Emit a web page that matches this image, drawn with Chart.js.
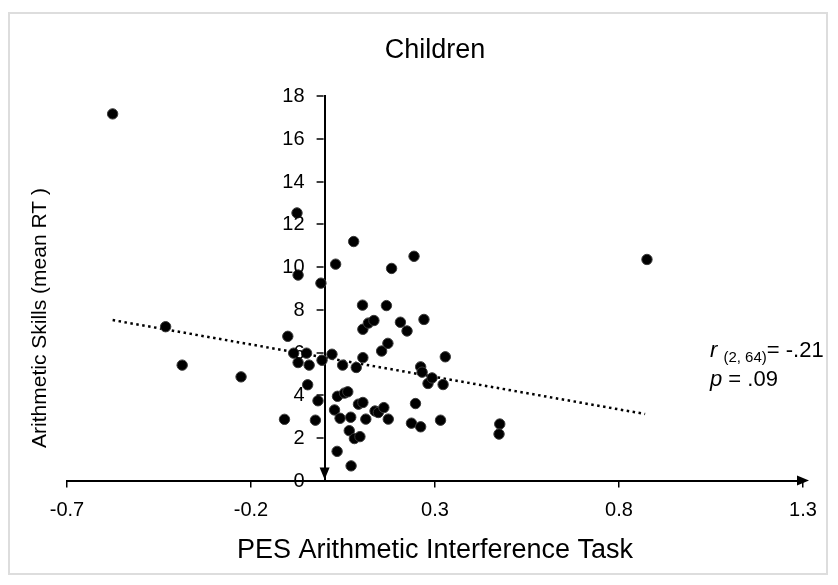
<!DOCTYPE html>
<html>
<head>
<meta charset="utf-8">
<script src="https://cdn.jsdelivr.net/npm/chart.js@4.4.1/dist/chart.umd.min.js"></script>
<style>
  html, body { margin: 0; padding: 0; background: #ffffff; }
  #wrap { position: relative; width: 838px; height: 585px; }
  #frame { position: absolute; left: 8px; top: 12px; width: 820px; height: 563px; border: 2px solid #dddddd; box-sizing: border-box; pointer-events: none; }
  canvas { position: absolute; left: 0; top: 0; }
</style>
</head>
<body>
<div id="wrap">
  <canvas id="c" width="838" height="585"></canvas>
  <div id="frame"></div>
</div>
<script>
// ---- Data ----
const chartTitle = "Children";
const xAxisTitle = "PES Arithmetic Interference Task";
const yAxisTitle = "Arithmetic Skills (mean RT )";

const pesValues = [
  -0.576, -0.432, -0.387, -0.227, -0.075, -0.072, -0.010, 0.030, 0.079, 0.182, 0.243, 0.876,
  -0.100, -0.084, -0.072, -0.049, -0.042, -0.007, 0.020, 0.049, 0.086, 0.104,
  -0.046, -0.018, -0.109, -0.025, 0.035, 0.054, 0.063, 0.027, 0.042, 0.071,
  0.092, 0.104, 0.112, 0.137, 0.146, 0.161, 0.173, 0.067, 0.081, 0.096,
  0.034, 0.072, 0.247, 0.236, 0.261, 0.315, 0.476, 0.474,
  0.103, 0.168, 0.104, 0.119, 0.134, 0.206, 0.224, 0.270, 0.155, 0.172,
  0.261, 0.265, 0.281, 0.292, 0.322, 0.328
];
const arithmeticRT = [
  17.18, 7.21, 5.41, 4.86, 12.54, 9.63, 9.25, 10.14, 11.20, 9.94, 10.51, 10.36,
  6.76, 5.97, 5.53, 5.97, 5.41, 5.64, 5.92, 5.41, 5.30, 5.76,
  4.49, 3.74, 2.87, 2.83, 3.95, 4.10, 4.16, 3.31, 2.92, 2.97,
  3.58, 3.66, 2.88, 3.26, 3.19, 3.42, 2.88, 2.34, 1.97, 2.06,
  1.37, 0.69, 3.61, 2.69, 2.52, 2.83, 2.65, 2.18,
  8.22, 8.20, 7.09, 7.38, 7.50, 7.42, 7.01, 7.55, 6.07, 6.43,
  5.33, 5.08, 4.55, 4.81, 4.50, 5.80
];
// trend line end points
const trendX = [-0.576, 0.871];
const trendY = [7.52, 3.12];

const xTicks = [-0.7, -0.2, 0.3, 0.8, 1.3];
const yTicks = [0, 2, 4, 6, 8, 10, 12, 14, 16, 18];

const statR = "= -.21";
const statRSub = "(2, 64)";
const statP = " = .09";

// ---- Build chart ----
const FONT = "'Liberation Sans', Arial, sans-serif";
const points = pesValues.map((x, i) => ({ x: x, y: arithmeticRT[i] }));
const trend = trendX.map((x, i) => ({ x: x, y: trendY[i] }));

const decorPlugin = {
  id: 'decor',
  afterDraw(chart) {
    const ctx = chart.ctx;
    const xs = chart.scales.x, ys = chart.scales.y;
    const x0 = xs.getPixelForValue(0);
    const yb = ys.getPixelForValue(0);
    const xr = xs.getPixelForValue(1.3);
    ctx.save();
    ctx.fillStyle = '#000';
    ctx.strokeStyle = '#000';

    // y axis tick marks and labels (axis sits at x = 0)
    ctx.lineWidth = 1.5;
    ctx.font = "20px " + FONT;
    ctx.textAlign = 'right';
    ctx.textBaseline = 'middle';
    yTicks.forEach(v => {
      const py = Math.round(ys.getPixelForValue(v));
      if (v !== 0) {
        ctx.beginPath();
        ctx.moveTo(x0 - 1, py);
        ctx.lineTo(x0 - 8, py);
        ctx.stroke();
      }
      ctx.fillText(String(v), x0 - 20, py);
    });

    // downward arrow at bottom of y axis
    ctx.beginPath();
    ctx.moveTo(x0, yb - 1);
    ctx.lineTo(x0 - 5, yb - 13);
    ctx.lineTo(x0 + 5, yb - 13);
    ctx.closePath();
    ctx.fill();
    // right arrow at end of x axis
    ctx.beginPath();
    ctx.moveTo(xr + 6, yb);
    ctx.lineTo(xr - 6, yb - 5);
    ctx.lineTo(xr - 6, yb + 5);
    ctx.closePath();
    ctx.fill();

    // y axis title
    ctx.save();
    ctx.translate(40, 318);
    ctx.rotate(-Math.PI / 2);
    ctx.textAlign = 'center';
    ctx.textBaseline = 'middle';
    ctx.font = "21px " + FONT;
    ctx.fillText(yAxisTitle, 0, 0);
    ctx.restore();

    // statistics annotation
    let ax = 710, by = 357;
    ctx.textAlign = 'left';
    ctx.textBaseline = 'alphabetic';
    ctx.font = "italic 22px " + FONT;
    ctx.fillText('r', ax, by);
    ax += ctx.measureText('r ').width;
    ctx.font = "15px " + FONT;
    ctx.fillText(statRSub, ax, by + 5);
    ax += ctx.measureText(statRSub).width;
    ctx.font = "22px " + FONT;
    ctx.fillText(statR, ax, by);
    ax = 710; by = 386;
    ctx.font = "italic 22px " + FONT;
    ctx.fillText('p', ax, by);
    ax += ctx.measureText('p').width;
    ctx.font = "22px " + FONT;
    ctx.fillText(statP, ax, by);
    ctx.restore();
  }
};

new Chart(document.getElementById('c'), {
  data: {
    datasets: [
      {
        type: 'scatter',
        data: points,
        backgroundColor: '#000000',
        borderColor: '#3a3a3a',
        borderWidth: 1,
        pointRadius: 5.2,
        order: 0
      },
      {
        type: 'line',
        data: trend,
        borderColor: '#000000',
        borderWidth: 2.5,
        borderDash: [2.5, 3.5],
        pointRadius: 0,
        fill: false,
        order: 1
      }
    ]
  },
  options: {
    responsive: false,
    animation: false,
    events: [],
    layout: { padding: { left: 67, right: 35, top: 14, bottom: 15 } },
    plugins: {
      legend: { display: false },
      tooltip: { enabled: false },
      title: {
        display: true,
        text: chartTitle,
        color: '#000',
        font: { family: FONT, size: 27, weight: 'normal' },
        padding: { top: 20, bottom: 30 }
      }
    },
    scales: {
      x: {
        type: 'linear',
        position: 'bottom',
        min: -0.7,
        max: 1.3,
        afterBuildTicks: (s) => { s.ticks = xTicks.map(v => ({ value: v })); },
        ticks: {
          color: '#000',
          font: { family: FONT, size: 20 },
          padding: 11,
          callback: (v) => Number(v).toFixed(1)
        },
        grid: { display: true, drawOnChartArea: false, drawTicks: true, tickLength: 7, color: '#000', lineWidth: 1.5 },
        border: { display: true, color: '#000', width: 2 },
        title: {
          display: true,
          text: xAxisTitle,
          color: '#000',
          font: { family: FONT, size: 27 },
          padding: { top: 1, bottom: 3 }
        }
      },
      y: {
        type: 'linear',
        position: { x: 0 },
        min: 0,
        max: 18,
        afterBuildTicks: (s) => { s.ticks = yTicks.map(v => ({ value: v })); },
        ticks: { display: false },
        grid: { display: false, drawOnChartArea: false },
        border: { display: true, color: '#000', width: 2 }
      }
    }
  },
  plugins: [decorPlugin]
});
</script>
</body>
</html>
